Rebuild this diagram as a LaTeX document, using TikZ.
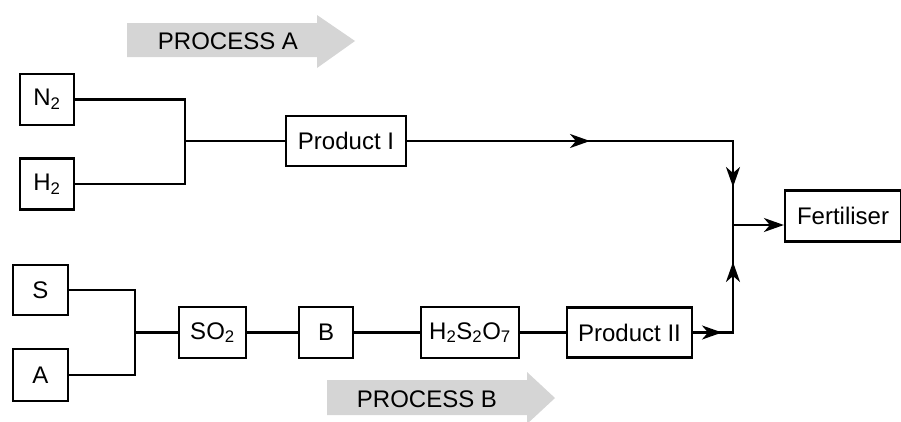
\documentclass[tikz,border=0pt]{standalone}
\usepackage{fontspec}
\setmainfont{Liberation Sans}
\usetikzlibrary{arrows.meta}
\begin{document}
\begin{tikzpicture}[x=1pt,y=-1pt,
  box/.style={draw=black,line width=2.2pt,inner sep=0pt,font=\fontsize{24}{28}\selectfont},
  flow/.style={line width=2.2pt,line join=miter},
  tip/.style={flow,-{Stealth[length=20pt,width=14pt,inset=6pt]}},
  banner/.style={fill=gray!33,draw=none},
  bannertext/.style={font=\fontsize{24}{28}\selectfont,inner sep=0pt}]
\useasboundingbox (0,0) rectangle (901,421);
% process banners
\fill[banner] (127,23) -- (317,23) -- (317,15) -- (355,41) -- (317,68) -- (317,57) -- (127,57) -- cycle;
\node[bannertext] (procA) at (228,41) {PROCESS A};
\fill[banner] (327,380) -- (527,380) -- (527,372) -- (555,398) -- (527,424) -- (527,415) -- (327,415) -- cycle;
\node[bannertext] (procB) at (427,399) {PROCESS B};
% boxes
\node[box,minimum width=54pt,minimum height=51pt] (n2) at (47,99.5) {N\textsubscript{2}};
\node[box,minimum width=54pt,minimum height=51pt] (h2) at (47,184) {H\textsubscript{2}};
\node[box,minimum width=120pt,minimum height=50pt] (p1) at (346,141) {Product I};
\node[box,minimum width=116pt,minimum height=51pt] (fert) at (843,216) {Fertiliser};
\node[box,minimum width=55pt,minimum height=50pt] (s) at (40.5,290) {S};
\node[box,minimum width=55pt,minimum height=52pt] (a) at (40.5,375) {A};
\node[box,minimum width=67pt,minimum height=51pt] (so2) at (212.5,332.5) {SO\textsubscript{2}};
\node[box,minimum width=54pt,minimum height=51pt] (b) at (326,332.5) {B};
\node[box,minimum width=98pt,minimum height=51pt] (h2s2o7) at (470,332.5) {H\textsubscript{2}S\textsubscript{2}O\textsubscript{7}};
\node[box,minimum width=125pt,minimum height=50pt] (p2) at (629.5,332.5) {Product II};
% junction coordinates
\coordinate (jA) at (185,141);
\coordinate (jS) at (135,332.5);
\coordinate (a1) at (590,141);
\coordinate (c1) at (733,141);
\coordinate (a2) at (733,187);
\coordinate (jF) at (733,225);
\coordinate (a3) at (722,332.5);
\coordinate (c3) at (733,332.5);
\coordinate (a4) at (733,262);
% connectors
\draw[flow] (n2.east) -| (jA);
\draw[flow] (h2.east) -| (jA);
\draw[flow] (jA) -- (p1.west);
\draw[flow] (p1.east) -- (c1) -- (jF);
\draw[tip] (p1.east) -- (a1);
\draw[tip] (c1) -- (a2);
\draw[flow] (s.east) -| (jS);
\draw[flow] (a.east) -| (jS);
\draw[flow] (jS) -- (so2.west);
\draw[flow] (so2) -- (b);
\draw[flow] (b) -- (h2s2o7);
\draw[flow] (h2s2o7) -- (p2);
\draw[flow] (p2.east) -- (c3) -- (jF);
\draw[tip] (p2.east) -- (a3);
\draw[tip] (c3) -- (a4);
\draw[tip] (jF) -- (fert.west |- jF);
\end{tikzpicture}
\end{document}
